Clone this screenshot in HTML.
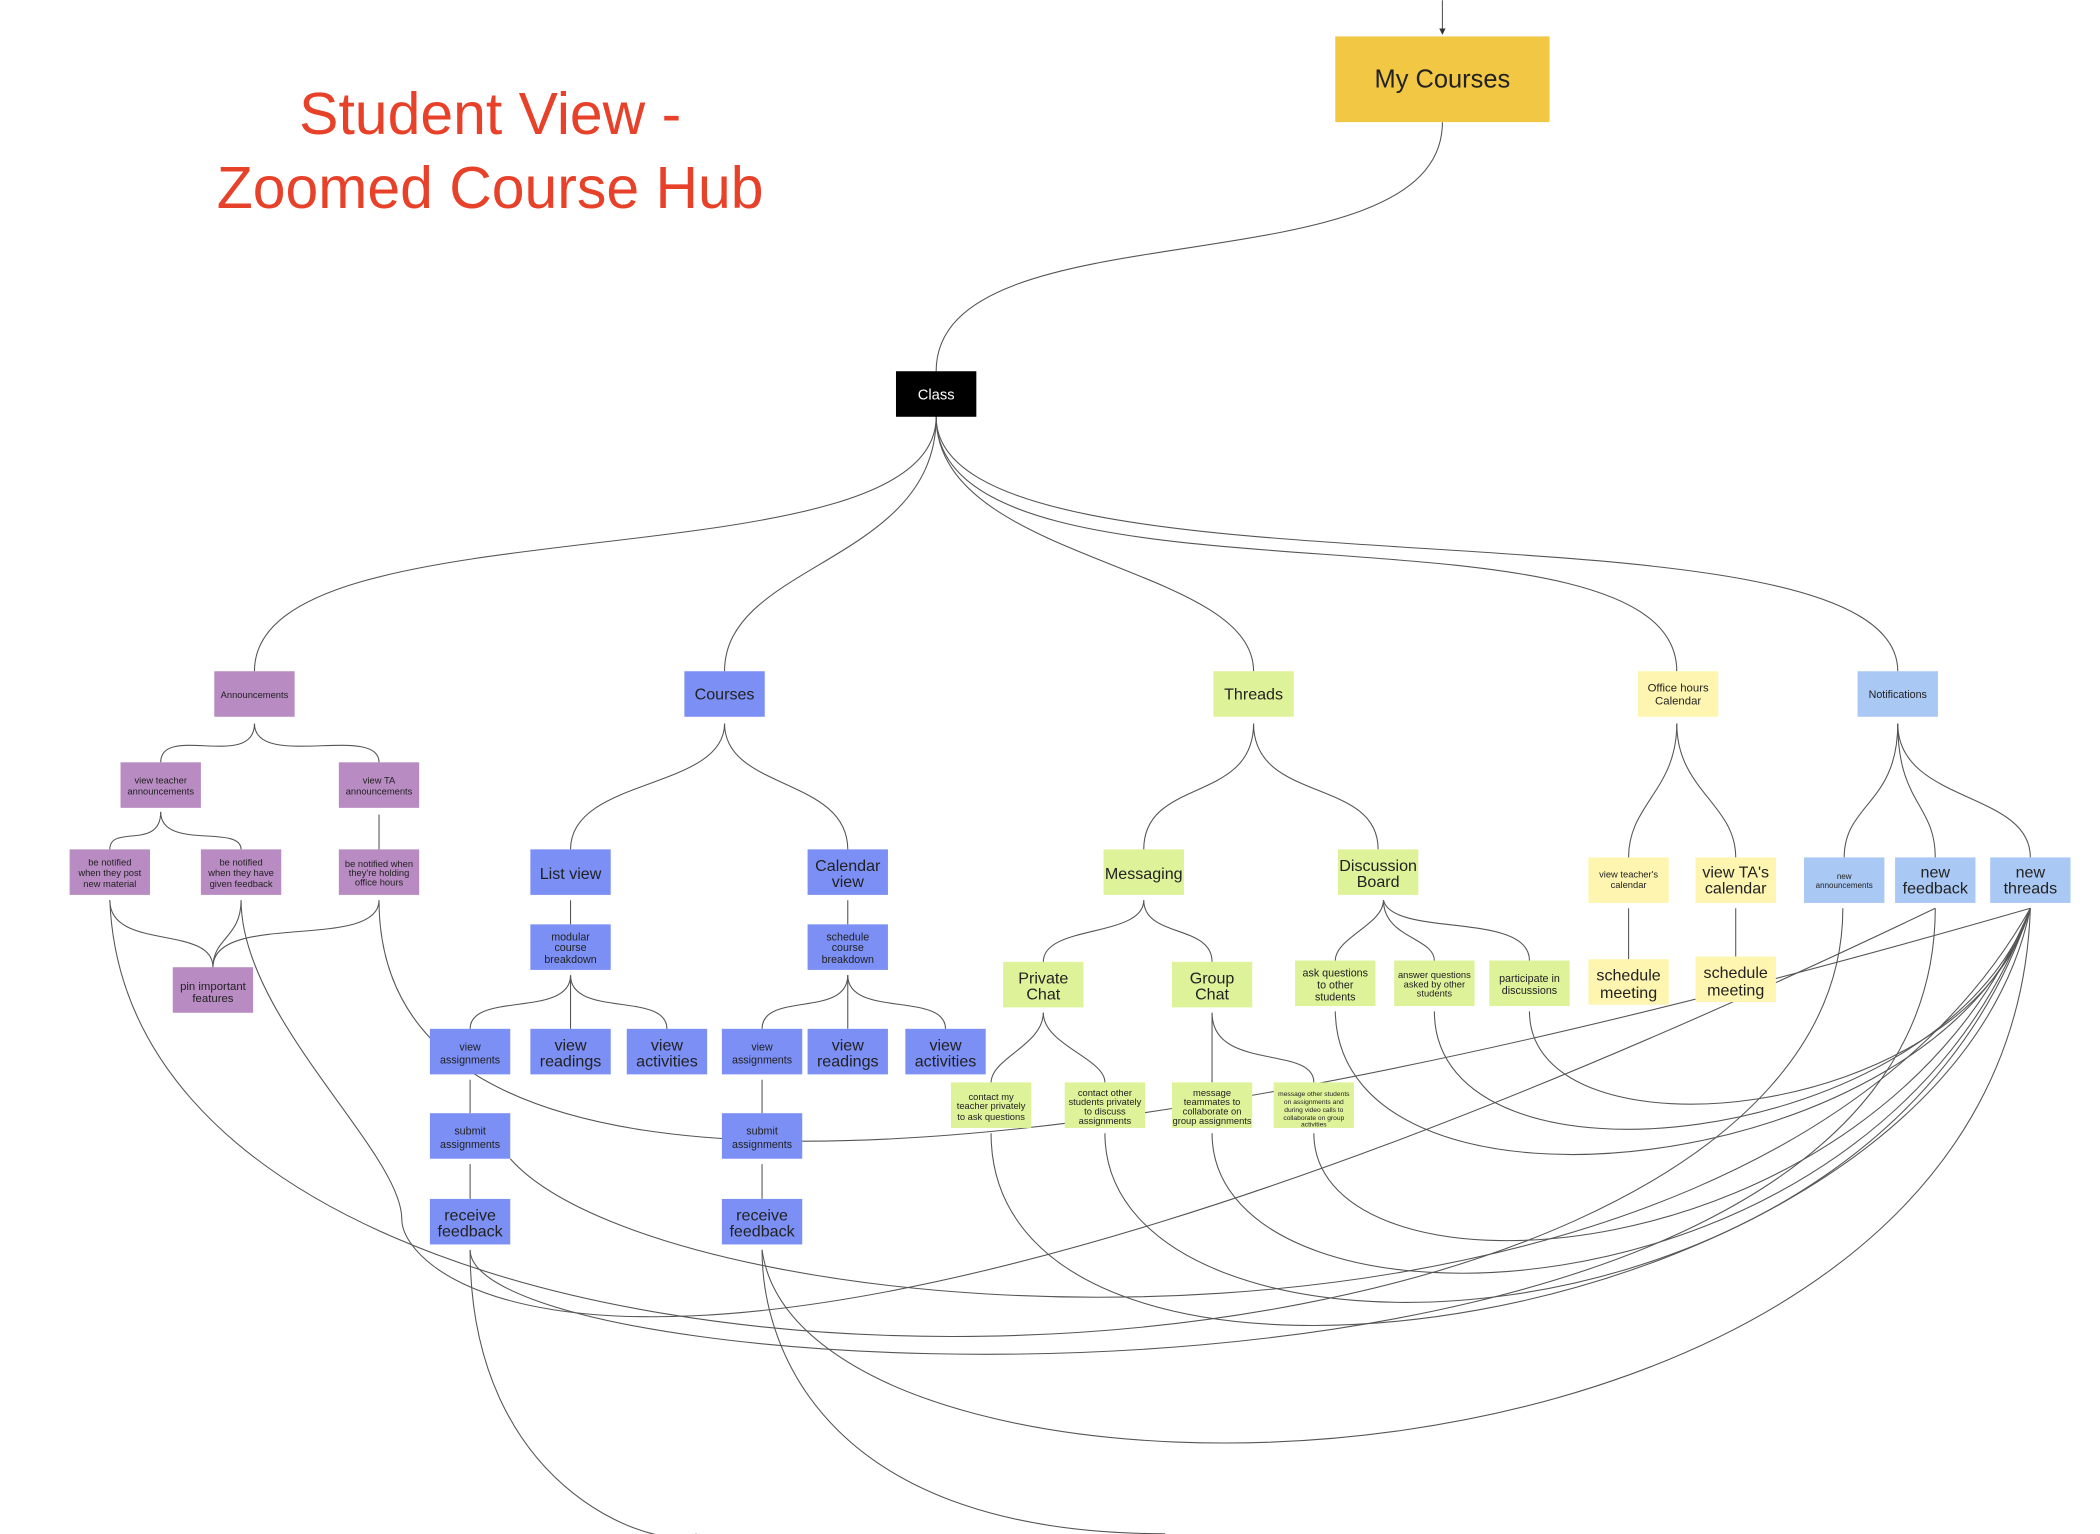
<!DOCTYPE html>
<html><head><meta charset="utf-8"><style>
html,body{margin:0;padding:0;background:#fff;}
svg{display:block;}
text{font-family:"Liberation Sans",sans-serif;fill:#222;text-anchor:middle;}
</style></head><body>
<svg width="2100" height="1534" viewBox="0 0 1568 1145" xmlns="http://www.w3.org/2000/svg">
<defs><marker id="a" markerWidth="6" markerHeight="6" refX="5" refY="3" orient="auto"><path d="M0,0 L6,3 L0,6 z" fill="#333"/></marker></defs>
<g fill="none" stroke="#555" stroke-width="0.8">
<path d="M1077 0 L1077 25" marker-end="url(#a)"/>
<path d="M1077 91 C1077 220 699 150 699 277"/>
<path d="M699 311 C699 440 190 370 190 501"/>
<path d="M699 311 C699 420 541 420 541 501"/>
<path d="M699 311 C699 420 936 420 936 501"/>
<path d="M699 311 C699 470 1252 360 1252 501"/>
<path d="M699 311 C699 460 1417 360 1417 501"/>
<path d="M190 540 C190 575 120 540 120 569"/>
<path d="M190 540 C190 575 283 540 283 569"/>
<path d="M120 606 C120 635 82 615 82 634"/>
<path d="M120 606 C120 635 180 615 180 634"/>
<path d="M283 608 L283 634"/>
<path d="M82 672 C82 710 159 690 159 722"/>
<path d="M180 672 C180 700 159 700 159 722"/>
<path d="M283 672 C283 710 159 680 159 722"/>
<path d="M541 540 C541 590 426 580 426 634"/>
<path d="M541 540 C541 590 633 580 633 634"/>
<path d="M426 672 L426 690"/><path d="M633 672 L633 690"/>
<path d="M426 728 C426 760 351 740 351 768"/><path d="M426 728 L426 768"/><path d="M426 728 C426 760 498 740 498 768"/>
<path d="M633 728 C633 760 569 740 569 768"/><path d="M633 728 L633 768"/><path d="M633 728 C633 760 706 740 706 768"/>
<path d="M351 806 L351 831"/><path d="M351 869 L351 895"/>
<path d="M569 806 L569 831"/><path d="M569 869 L569 895"/>
<path d="M936 540 C936 600 854 580 854 634"/>
<path d="M936 540 C936 600 1029 580 1029 634"/>
<path d="M854 672 C854 700 779 690 779 718"/><path d="M854 672 C854 700 905 690 905 718"/>
<path d="M1033 672 C1033 690 997 700 997 717"/><path d="M1033 672 C1033 700 1071 700 1071 717"/><path d="M1033 672 C1040 700 1142 680 1142 717"/>
<path d="M779 756 C779 780 740 790 740 808"/><path d="M779 756 C779 780 825 790 825 808"/>
<path d="M905 756 L905 808"/><path d="M905 756 C905 800 981 780 981 808"/>
<path d="M1252 540 C1252 590 1216 600 1216 640"/><path d="M1252 540 C1252 590 1296 600 1296 640"/>
<path d="M1216 678 L1216 716"/><path d="M1296 678 L1296 714"/>
<path d="M1417 540 C1417 600 1377 600 1377 640"/><path d="M1417 540 C1417 600 1445 600 1445 640"/><path d="M1417 540 C1417 600 1516 590 1516 640"/>
<path d="M82 672 C100 1130 1376 1080 1376 678"/>
<path d="M180 672 C180 760 300 860 300 910 C300 960 500 1130 1445 678"/>
<path d="M283 672 C283 800 400 1000 1516 678"/>
<path d="M381 865 C500 1000 1300 1060 1516 678"/>
<path d="M351 933 C351 1120 500 1160 520 1145"/>
<path d="M351 933 C351 1040 1445 1100 1445 678"/>
<path d="M569 933 C569 1010 620 1145 870 1145"/>
<path d="M569 933 C600 1160 1500 1150 1516 678"/>
<path d="M740 846 C740 1100 1450 1000 1516 678"/>
<path d="M825 846 C825 1040 1400 1030 1516 678"/>
<path d="M905 846 C905 1010 1400 1000 1516 678"/>
<path d="M981 846 C981 980 1400 960 1516 678"/>
<path d="M997 755 C1000 930 1450 880 1516 678"/>
<path d="M1071 755 C1071 900 1450 860 1516 678"/>
<path d="M1142 755 C1142 870 1470 840 1516 678"/>
</g>
<text x="366" y="100" font-size="44" style="fill:#e8412a">Student View -</text>
<text x="366" y="155" font-size="44" style="fill:#e8412a">Zoomed Course Hub</text>
<rect x="997" y="27" width="160" height="64" fill="#f2c744"/>
<text x="1077" y="65" font-size="19">My Courses</text>
<rect x="669" y="277" width="60" height="34" fill="#000"/>
<text x="699" y="298" font-size="11" style="fill:#fff">Class</text>
<g font-size="7">
<rect x="160" y="501" width="60" height="34" fill="#b88bc2"/><text x="190" y="521">Announcements</text>
<rect x="90" y="569" width="60" height="34" fill="#b88bc2"/><text x="120" y="585">view teacher</text><text x="120" y="593">announcements</text>
<rect x="253" y="569" width="60" height="34" fill="#b88bc2"/><text x="283" y="585">view TA</text><text x="283" y="593">announcements</text>
<rect x="52" y="634" width="60" height="34" fill="#b88bc2"/><text x="82" y="646">be notified</text><text x="82" y="654">when they post</text><text x="82" y="662">new material</text>
<rect x="150" y="634" width="60" height="34" fill="#b88bc2"/><text x="180" y="646">be notified</text><text x="180" y="654">when they have</text><text x="180" y="662">given feedback</text>
<rect x="253" y="634" width="60" height="34" fill="#b88bc2"/><text x="283" y="647">be notified when</text><text x="283" y="654">they're holding</text><text x="283" y="661">office hours</text>
<rect x="129" y="722" width="60" height="34" fill="#b88bc2"/><text x="159" y="739" font-size="8.5">pin important</text><text x="159" y="748" font-size="8.5">features</text>
</g>
<g font-size="12">
<rect x="511" y="501" width="60" height="34" fill="#7b8ff5"/><text x="541" y="522">Courses</text>
<rect x="396" y="634" width="60" height="34" fill="#7b8ff5"/><text x="426" y="656">List view</text>
<rect x="603" y="634" width="60" height="34" fill="#7b8ff5"/><text x="633" y="650">Calendar</text><text x="633" y="662">view</text>
<g font-size="8"><rect x="396" y="690" width="60" height="34" fill="#7b8ff5"/><text x="426" y="702">modular</text><text x="426" y="710">course</text><text x="426" y="719">breakdown</text>
<rect x="603" y="690" width="60" height="34" fill="#7b8ff5"/><text x="633" y="702">schedule</text><text x="633" y="710">course</text><text x="633" y="719">breakdown</text>
<rect x="321" y="768" width="60" height="34" fill="#7b8ff5"/><text x="351" y="784">view</text><text x="351" y="794">assignments</text>
<rect x="539" y="768" width="60" height="34" fill="#7b8ff5"/><text x="569" y="784">view</text><text x="569" y="794">assignments</text>
<rect x="321" y="831" width="60" height="34" fill="#7b8ff5"/><text x="351" y="847">submit</text><text x="351" y="857">assignments</text>
<rect x="539" y="831" width="60" height="34" fill="#7b8ff5"/><text x="569" y="847">submit</text><text x="569" y="857">assignments</text></g>
<rect x="396" y="768" width="60" height="34" fill="#7b8ff5"/><text x="426" y="784">view</text><text x="426" y="796">readings</text>
<rect x="468" y="768" width="60" height="34" fill="#7b8ff5"/><text x="498" y="784">view</text><text x="498" y="796">activities</text>
<rect x="603" y="768" width="60" height="34" fill="#7b8ff5"/><text x="633" y="784">view</text><text x="633" y="796">readings</text>
<rect x="676" y="768" width="60" height="34" fill="#7b8ff5"/><text x="706" y="784">view</text><text x="706" y="796">activities</text>
<rect x="321" y="895" width="60" height="34" fill="#7b8ff5"/><text x="351" y="911">receive</text><text x="351" y="923">feedback</text>
<rect x="539" y="895" width="60" height="34" fill="#7b8ff5"/><text x="569" y="911">receive</text><text x="569" y="923">feedback</text>
<rect x="906" y="501" width="60" height="34" fill="#def29a"/><text x="936" y="522">Threads</text>
<rect x="824" y="634" width="60" height="34" fill="#def29a"/><text x="854" y="656">Messaging</text>
<rect x="999" y="634" width="60" height="34" fill="#def29a"/><text x="1029" y="650">Discussion</text><text x="1029" y="662">Board</text>
<rect x="749" y="718" width="60" height="34" fill="#def29a"/><text x="779" y="734">Private</text><text x="779" y="746">Chat</text>
<rect x="875" y="718" width="60" height="34" fill="#def29a"/><text x="905" y="734">Group</text><text x="905" y="746">Chat</text>
<rect x="1186" y="716" width="60" height="34" fill="#fef5b0"/><text x="1216" y="732">schedule</text><text x="1216" y="745">meeting</text>
<rect x="1266" y="714" width="60" height="34" fill="#fef5b0"/><text x="1296" y="730">schedule</text><text x="1296" y="743">meeting</text>
<rect x="1266" y="640" width="60" height="34" fill="#fef5b0"/><text x="1296" y="655">view TA's</text><text x="1296" y="667">calendar</text>
<rect x="1415" y="640" width="60" height="34" fill="#a9c8f3"/><text x="1445" y="655">new</text><text x="1445" y="667">feedback</text>
<rect x="1486" y="640" width="60" height="34" fill="#a9c8f3"/><text x="1516" y="655">new</text><text x="1516" y="667">threads</text>
</g>
<g font-size="7">
<rect x="710" y="808" width="60" height="34" fill="#def29a"/><text x="740" y="821">contact my</text><text x="740" y="828">teacher privately</text><text x="740" y="836">to ask questions</text>
<rect x="795" y="808" width="60" height="34" fill="#def29a"/><text x="825" y="818">contact other</text><text x="825" y="825">students privately</text><text x="825" y="832">to discuss</text><text x="825" y="839">assignments</text>
<rect x="875" y="808" width="60" height="34" fill="#def29a"/><text x="905" y="818">message</text><text x="905" y="825">teammates to</text><text x="905" y="832">collaborate on</text><text x="905" y="839">group assignments</text>
<g font-size="5"><rect x="951" y="808" width="60" height="34" fill="#def29a"/><text x="981" y="818">message other students</text><text x="981" y="824">on assignments and</text><text x="981" y="830">during video calls to</text><text x="981" y="836">collaborate on group</text><text x="981" y="841">activities</text></g>
<rect x="967" y="717" width="60" height="34" fill="#def29a"/><text x="997" y="729" font-size="8">ask questions</text><text x="997" y="738" font-size="8">to other</text><text x="997" y="747" font-size="8">students</text>
<rect x="1041" y="717" width="60" height="34" fill="#def29a"/><text x="1071" y="730">answer questions</text><text x="1071" y="737">asked by other</text><text x="1071" y="744">students</text>
<rect x="1112" y="717" width="60" height="34" fill="#def29a"/><text x="1142" y="733" font-size="8">participate in</text><text x="1142" y="742" font-size="8">discussions</text>
<rect x="1223" y="501" width="60" height="34" fill="#fef5b0"/><text x="1253" y="516" font-size="8.5">Office hours</text><text x="1253" y="526" font-size="8.5">Calendar</text>
<rect x="1186" y="640" width="60" height="34" fill="#fef5b0"/><text x="1216" y="655">view teacher's</text><text x="1216" y="663">calendar</text>
<rect x="1387" y="501" width="60" height="34" fill="#a9c8f3"/><text x="1417" y="521" font-size="8">Notifications</text>
<rect x="1347" y="640" width="60" height="34" fill="#a9c8f3"/><text x="1377" y="656" font-size="6">new</text><text x="1377" y="663" font-size="6">announcements</text>
</g>
</svg>
</body></html>
